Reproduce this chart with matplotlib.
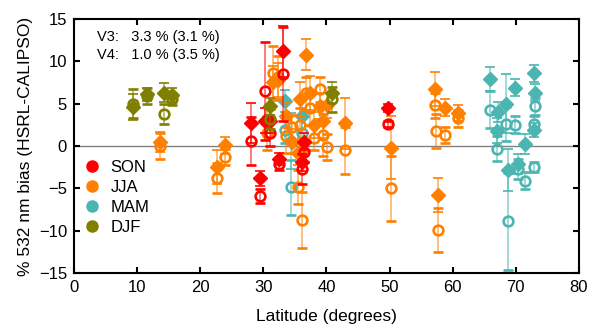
import numpy as np
import matplotlib
matplotlib.use('Agg')
import matplotlib.pyplot as plt
from matplotlib.lines import Line2D

plt.rcParams['font.family'] = ['Liberation Sans', 'DejaVu Sans']

# ---- data: latitude, V3 bias (open circles), V4 bias (filled diamonds) ----
son_lat = [28.0, 29.4, 30.3, 31.1, 32.5, 33.1, 36.1, 36.4, 49.8]
son_v3 = [0.6, -5.9, 6.5, 1.5, -2.1, 8.5, -2.7, -0.7, 2.6]
son_v3err = [2.8, 0.8, 5.8, 1.5, 0.7, 5.5, 1.8, 1.2, 0.4]
son_v4 = [2.7, -3.8, 3.0, 3.0, -1.5, 11.2, -1.9, 0.5, 4.5]
son_v4err = [2.4, 0.9, 1.5, 1.5, 0.7, 3.0, 1.0, 1.0, 0.5]

jja_lat = [13.6, 22.7, 24.0, 30.6, 31.5, 32.3, 33.6, 34.6, 35.5, 35.8, 36.1,
           36.7, 37.4, 38.1, 38.9, 39.5, 40.1, 43.0, 50.2, 57.2, 57.4, 57.6,
           58.8, 60.9]
jja_v3 = [0.0, -3.8, -1.3, 1.5, 8.6, 8.1, 1.2, 2.2, -4.8, 2.5, -8.7,
          6.2, 4.5, 1.0, 6.7, 1.3, -0.1, -0.5, -5.0, 4.8, 1.8, -9.9,
          1.3, 3.3]
jja_v3err = [1.5, 1.8, 1.0, 2.0, 3.2, 2.5, 2.0, 1.5, 2.0, 2.0, 3.3,
             2.0, 2.0, 1.5, 1.5, 2.5, 1.5, 2.8, 3.8, 1.5, 2.0, 2.6,
             1.0, 1.0]
jja_v4 = [0.5, -2.5, 0.1, 3.0, 7.5, 7.8, 3.6, 0.5, -0.8, 5.5, -0.5,
          10.8, 6.3, 2.5, 4.7, 2.9, 4.8, 2.7, -0.2, 6.7, np.nan, -5.8,
          4.5, 3.9]
jja_v4err = [1.2, 2.0, 1.0, 1.5, 2.0, 2.0, 1.5, 1.5, 1.5, 2.0, 1.5,
             1.8, 2.0, 1.5, 1.5, 2.0, 1.5, 3.0, 3.7, 2.0, 0.0, 2.0,
             1.0, 1.0]

mam_lat = [33.5, 34.4, 36.1, 65.9, 67.0, 67.2, 68.5, 68.7, 69.8, 70.4,
           71.4, 72.8, 73.0, 72.9]
mam_v3 = [1.9, -4.9, 1.5, 4.3, -0.3, np.nan, 2.6, -8.9, 2.5, -2.7,
          -4.1, 2.6, 4.7, -2.5]
mam_v3err = [1.5, 3.3, 2.0, 2.2, 1.5, 0.0, 2.0, 5.7, 1.0, 1.2,
             1.0, 1.0, 1.0, 0.6]
mam_v4 = [5.3, 0.6, 3.5, 7.9, 1.8, 4.0, 5.0, -2.8, 6.9, -2.1,
          0.2, 8.6, 6.3, 1.9]
mam_v4err = [1.3, 3.3, 2.0, 1.4, 1.5, 1.2, 3.5, 2.5, 1.0, 1.2,
             1.2, 1.0, 1.0, 0.8]

djf_lat = [9.3, 11.6, 14.2, 15.5, 31.0, 40.9]
djf_v3 = [5.0, 5.9, 3.8, 5.6, 3.2, 5.5]
djf_v3err = [1.7, 0.9, 1.2, 0.7, 1.2, 1.5]
djf_v4 = [4.6, 6.1, 6.3, 6.0, 4.7, 6.3]
djf_v4err = [1.5, 0.8, 1.1, 0.8, 1.0, 1.2]

seasons = ['SON', 'JJA', 'MAM', 'DJF']
colors = {'SON': '#ff0000', 'JJA': '#ff8000', 'MAM': '#4bb5b1', 'DJF': '#808000'}

fig = plt.figure(figsize=(6, 3.36), dpi=100)
ax = fig.add_axes([0.1233, 0.1875, 0.8417, 0.756])

ax.axhline(0, color='#808080', lw=1, zorder=1)


def draw(lat, v3, v3err, v4, v4err, c, z):
    ax.errorbar(lat, v4, yerr=v4err, fmt='D', color=c, ms=7, mec=c, mfc=c,
                ecolor=c, elinewidth=1.2, capsize=3.5, capthick=1.2,
                zorder=z)
    ax.errorbar(lat, v3, yerr=v3err, fmt='o', color=c, ms=7, mec=c,
                mfc='none', mew=1.9, ecolor=c, elinewidth=1.2, capsize=3.5,
                capthick=1.2, zorder=z + 0.5)


draw(mam_lat, mam_v3, mam_v3err, mam_v4, mam_v4err, colors['MAM'], 2)
draw(jja_lat, jja_v3, jja_v3err, jja_v4, jja_v4err, colors['JJA'], 3)
draw(son_lat, son_v3, son_v3err, son_v4, son_v4err, colors['SON'], 4)
draw(djf_lat, djf_v3, djf_v3err, djf_v4, djf_v4err, colors['DJF'], 5)

# lighten the error bar lines a bit
for coll in ax.collections:
    coll.set_alpha(0.6)

ax.set_xlim(0, 80)
ax.set_ylim(-15, 15)
ax.set_xticks(np.arange(0, 81, 10))
ax.set_yticks(np.arange(-15, 16, 5))
ax.tick_params(direction='in', top=True, right=True, length=4, width=1.5,
               labelsize=12, pad=5)
for s in ax.spines.values():
    s.set_linewidth(1.5)

ax.set_xlabel('Latitude (degrees)', fontsize=12.5, labelpad=10)
ax.set_ylabel('% 532 nm bias (HSRL-CALIPSO)', fontsize=12.5, labelpad=4)

ax.text(0.045, 0.93, 'V3:   3.3 % (3.1 %)', transform=ax.transAxes, fontsize=10.5, va='center')
ax.text(0.045, 0.86, 'V4:   1.0 % (3.5 %)', transform=ax.transAxes, fontsize=10.5, va='center')

handles = [Line2D([], [], ls='none', marker='o', ms=8, color=colors[s]) for s in seasons]
ax.legend(handles, seasons, loc='upper left', bbox_to_anchor=(-0.01, 0.47),
          frameon=False, fontsize=12, handletextpad=0.1, labelspacing=0.3,
          borderaxespad=0)

fig.savefig('out.png', dpi=100)
